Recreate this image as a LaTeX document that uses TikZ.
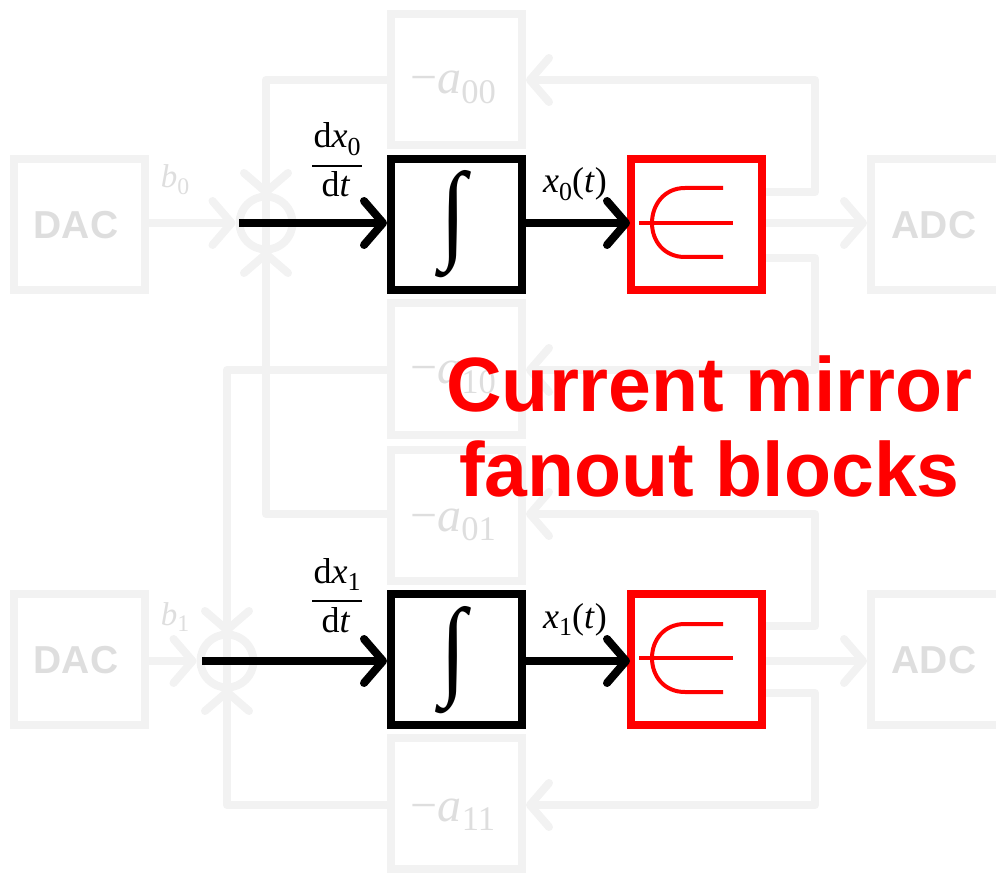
\documentclass[tikz,border=0pt]{standalone}
\usepackage{fontspec}
\setmainfont{Liberation Serif}
\newfontfamily\arialb{Liberation Sans}
\usetikzlibrary{arrows.meta,calc}
\definecolor{fade}{HTML}{F2F2F2}
\definecolor{fadetxt}{HTML}{DEDEDE}
\tikzset{
  x=1pt,y=-1pt,
  blockbox/.style={draw,line width=8pt,minimum width=131pt,minimum height=131pt,inner sep=0pt},
  fadebox/.style={blockbox,draw=fade,text=fadetxt},
  blackbox/.style={blockbox,draw=black,fill=white},
  redbox/.style={blockbox,draw=red,fill=white},
  sumnode/.style={circle,draw=fade,line width=8pt,minimum size=53pt,inner sep=0pt},
  wire/.style={draw=fade,line width=8pt,line join=round},
  fadearrow/.style={wire,-{Straight Barb[length=19pt,width=44pt,line width=8pt,round]}},
  blackarrow/.style={draw=black,line width=8pt,-{Straight Barb[length=19pt,width=44pt,line width=8pt,round]}},
  converter/.style={font=\arialb\bfseries\fontsize{39}{39}\selectfont,text=fadetxt},
  coef/.style={font=\fontsize{48}{48}\selectfont,text=fadetxt,anchor=base,inner sep=0pt},
  small/.style={font=\fontsize{36}{36}\selectfont,inner sep=0pt,anchor=base},
  faint/.style={font=\fontsize{33}{33}\selectfont,inner sep=0pt,anchor=base,text=fadetxt},
  fracbar/.style={draw=black,line width=2.5pt},
  mirrorsym/.style={draw=red,line width=4pt},
}
\newcommand{\lowsub}[1]{\raisebox{-.2em}{\scalebox{.72}{#1}}}
\newcommand{\var}[2]{\textit{#1}\lowsub{#2}}
\newcommand{\intsym}{\resizebox{26pt}{78pt}{∫}}
\begin{document}
\begin{tikzpicture}
\useasboundingbox (0,0) rectangle (996,874);
% fanout and input blocks
\node[fadebox] (a00) at (456.5,79.5) {};
\node[fadebox] (a10) at (456.5,369) {};
\node[fadebox] (a01) at (456.5,515) {};
\node[fadebox] (a11) at (456.5,803.5) {};
\node[fadebox] (dac0) at (79,225) {};
\node[fadebox] (dac1) at (79,659.5) {};
\node[fadebox] (adc0) at (936.5,225) {};
\node[fadebox] (adc1) at (936.5,659.5) {};
\node[sumnode] (s0) at (266,223) {};
\node[sumnode] (s1) at (227,661) {};
\node[blackbox] (int0) at (456.5,225) {};
\node[blackbox] (int1) at (456.5,659.5) {};
\node[redbox] (m0) at (696.5,225) {};
\node[redbox] (m1) at (696.5,659.5) {};
\coordinate (c0a) at (266,80);
\coordinate (c0b) at (266,514);
\coordinate (c1a) at (227,370);
\coordinate (c1b) at (227,805);
\coordinate (r0t) at (815,192);
\coordinate (r0b) at (815,258);
\coordinate (r1t) at (815,626);
\coordinate (r1b) at (815,693);
\coordinate (end0) at (630,223);
\coordinate (end1) at (630,661);
% faded wiring
\path[fadearrow] (dac0.east |- s0) -- (s0.west);
\path[fadearrow] (dac1.east |- s1) -- (s1.west);
\path[wire] (a00.west |- c0a) -- (c0a) -- (c0b) -- (a01.west |- c0b);
\path[wire] (a10.west |- c1a) -- (c1a) -- (c1b) -- (a11.west |- c1b);
\path[fadearrow] (m0.east |- r0t) -- (r0t) -- (r0t |- c0a) -- (a00.east |- c0a);
\path[fadearrow] (m0.east |- r0b) -- (r0b) -- (r0b |- c1a) -- (a10.east |- c1a);
\path[fadearrow] (m1.east |- r1t) -- (r1t) -- (r1t |- c0b) -- (a01.east |- c0b);
\path[fadearrow] (m1.east |- r1b) -- (r1b) -- (r1b |- c1b) -- (a11.east |- c1b);
\path[fadearrow] (m0.east |- 0,223) -- (adc0.west |- 0,223);
\path[fadearrow] (m1.east |- 0,661) -- (adc1.west |- 0,661);
\coordinate (s0n) at ($(s0)+(0,-27)$); \coordinate (s0nn) at ($(s0)+(0,-50)$);
\coordinate (s0s) at ($(s0)+(0,27)$); \coordinate (s0ss) at ($(s0)+(0,50)$);
\coordinate (s1n) at ($(s1)+(0,-27)$); \coordinate (s1nn) at ($(s1)+(0,-50)$);
\coordinate (s1s) at ($(s1)+(0,27)$); \coordinate (s1ss) at ($(s1)+(0,50)$);
\path[fadearrow] (s0nn) -- (s0n);
\path[fadearrow] (s0ss) -- (s0s);
\path[fadearrow] (s1nn) -- (s1n);
\path[fadearrow] (s1ss) -- (s1s);
% black signal paths
\coordinate (st0) at (239,223);
\coordinate (st1) at (202,661);
\draw[blackarrow] (st0) -- (int0.west |- st0);
\draw[blackarrow] (st1) -- (int1.west |- st1);
\draw[blackarrow] (int0.east |- st0) -- (end0);
\draw[blackarrow] (int1.east |- st1) -- (end1);
% labels
\node[coef] (la00) at (453,94) {−\var{a}{00}};
\node[coef] (la10) at (453,384) {−\var{a}{10}};
\node[coef] (la01) at (453,531) {−\var{a}{01}};
\node[coef] (la11) at (453,821) {−\var{a}{11}};
\node[converter] (tdac0) at (76,225) {DAC};
\node[converter] (tdac1) at (76,660) {DAC};
\node[converter] (tadc0) at (934,225) {ADC};
\node[converter] (tadc1) at (934,660) {ADC};
\node[faint] (lb0) at (175,188) {\var{b}{0}};
\node[faint] (lb1) at (175,625) {\var{b}{1}};
\node[small] (ld0n) at (337,148) {d\var{x}{0}};
\node[small] (ld0d) at (336,197) {d\textit{t}};
\node[small] (ld1n) at (337,583) {d\var{x}{1}};
\node[small] (ld1d) at (336,632) {d\textit{t}};
\draw[fracbar] (312,166) -- (362,166);
\draw[fracbar] (312,601) -- (362,601);
\node[small] (lx0) at (575,193) {\var{x}{0}(\textit{t})};
\node[small] (lx1) at (575,628) {\var{x}{1}(\textit{t})};
\node[inner sep=0pt] (i0) at (453.5,224) {\intsym};
\node[inner sep=0pt] (i1) at (453.5,660) {\intsym};
% current-mirror symbols
\draw[mirrorsym] (639,223) -- (733,223);
\draw[mirrorsym] (723,188) -- (685,188) .. controls (664,188) and (652,205) .. (652,223) .. controls (652,241) and (664,257) .. (685,257) -- (723,257);
\draw[mirrorsym] (639,658) -- (733,658);
\draw[mirrorsym] (723,624) -- (685,624) .. controls (664,624) and (652,640) .. (652,658) .. controls (652,676) and (664,692) .. (685,692) -- (723,692);
% caption
\node[font=\arialb\bfseries\fontsize{77}{85}\selectfont,text=red,align=center,inner sep=0pt] (cap) at (709.5,426) {Current mirror\\fanout blocks};
\end{tikzpicture}
\end{document}
